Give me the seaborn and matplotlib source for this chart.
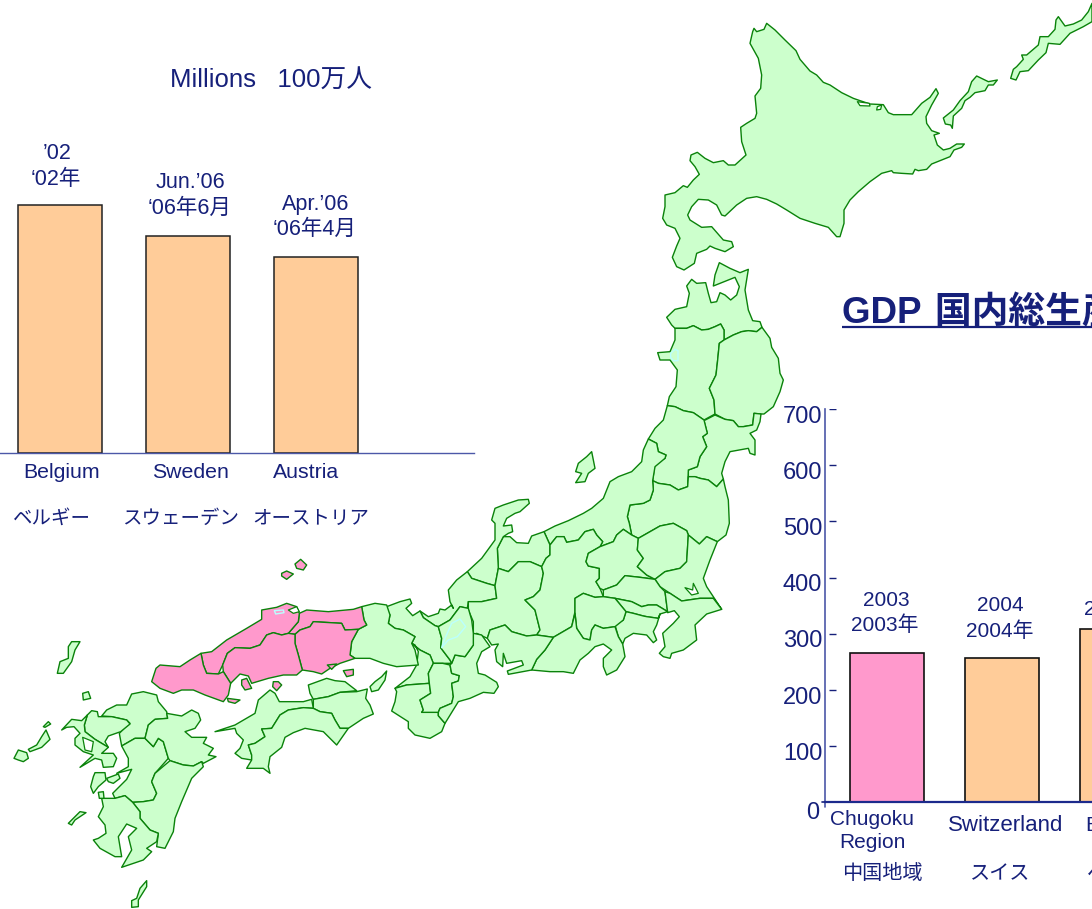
import matplotlib
matplotlib.use("Agg")
import matplotlib.pyplot as plt
from matplotlib.patches import Polygon
from matplotlib.transforms import ScaledTranslation
import seaborn as sns

# ---------- chart data ----------
POP_COUNTRIES = ["Belgium", "Sweden", "Austria"]
POP_COUNTRIES_JP = ["ベルギー", "スウェーデン", "オーストリア"]
POP_MILLIONS = [10.3, 9.02, 8.15]
POP_DATES_EN = ["’02", "Jun.’06", "Apr.’06"]
POP_DATES_JP = ["‘02年", "‘06年6月", "‘06年4月"]

GDP_REGIONS = ["Chugoku\nRegion", "Switzerland", "Belgium"]
GDP_REGIONS_JP = ["中国地域", "スイス", "ベルギー"]
GDP_VALUES = [265, 257, 308]
GDP_YEARS = ["2003", "2004", "2004"]
GDP_YEARS_JP = ["2003年", "2004年", ""]
GDP_TICKS = [0, 100, 200, 300, 400, 500, 600, 700]

NAVY = "#16207a"
AXIS = "#4c58a8"
PEACH = "#FFCC99"
PINK = "#FF99CC"
LAND = "#CCFFCC"
BORDER = "#0a820a"
LAKE = "#BBFFFF"


def at(ox, oy, pts):
    return [(ox + x / 3, oy + y / 3) for x, y in pts]


# ---------- map outlines ----------
HOKKAIDO = at(660, 10, [(320,40),(345,60),(375,90),(408,122),(420,148),(450,183),(470,195),(490,217),(510,225),(545,248),(580,265),(600,272),(630,282),(670,284),(685,308),(700,314),(755,314),(785,280),(810,262),(828,236),(835,250),(815,285),(798,320),(800,340),(815,362),(838,370),(822,375),(832,405),(850,420),(870,415),(890,402),(913,402),(905,412),(882,420),(870,440),(840,452),(815,462),(800,478),(775,482),(765,478),(758,492),(725,490),(700,488),(695,482),(665,490),(630,515),(595,545),(570,570),(552,600),(552,640),(540,680),(530,680),(505,652),(465,640),(420,625),(380,600),(350,582),(320,568),(290,560),(260,565),(230,585),(195,618),(185,615),(170,585),(145,570),(115,568),(95,590),(83,615),(90,630),(125,652),(155,650),(190,690),(215,695),(220,710),(195,725),(165,715),(150,708),(140,718),(110,730),(103,760),(72,780),(50,770),(37,742),(50,708),(60,685),(45,655),(20,645),(8,625),(15,590),(15,555),(45,548),(70,527),(82,532),(100,510),(118,493),(105,470),(90,452),(93,435),(112,427),(135,445),(160,458),(190,452),(205,465),(225,465),(258,435),(245,395),(242,352),(260,340),(285,325),(290,310),(285,258),(302,235),(305,195),(295,145),(270,100),(278,65),(282,55),(290,65),(312,58)])
KUNASHIRI = at(660, 10, [(950,198),(985,215),(1012,210),(1000,225),(985,225),(975,242),(945,248),(930,262),(915,272),(905,295),(880,318),(877,355),(872,345),(856,342),(850,324),(880,300),(900,272),(925,245),(935,215)])
ETOROFU = at(660, 10, [(1296,-20),(1285,5),(1265,30),(1240,42),(1215,48),(1195,20),(1188,30),(1185,58),(1165,80),(1140,80),(1135,105),(1100,135),(1085,135),(1090,148),(1070,170),(1060,178),(1052,205),(1068,210),(1080,185),(1105,182),(1135,150),(1158,128),(1165,100),(1200,103),(1230,70),(1270,50),(1296,35)])
SAROMA = at(660, 10, [(592,275),(628,280),(630,288),(600,287)])
NOTORO = at(660, 10, [(652,290),(665,285),(662,298),(650,300)])

AOMORI = at(560, 260, [(478,8),(510,25),(540,38),(565,28),(555,90),(565,150),(578,182),(600,185),(606,202),(590,215),(565,212),(545,215),(520,225),(492,240),(492,210),(482,192),(465,200),(445,208),(425,210),(400,197),(380,205),(345,205),(335,195),(320,172),(345,148),(380,140),(388,100),(380,78),(395,58),(410,70),(437,68),(445,100),(453,128),(470,125),(480,98),(495,105),(512,120),(530,105),(538,80),(525,52),(500,62),(460,78),(465,45)])
AKITA = at(560, 260, [(345,205),(380,205),(400,197),(425,210),(445,208),(465,200),(482,192),(492,210),(492,240),(478,250),(473,300),(468,345),(448,385),(462,420),(465,462),(432,480),(400,458),(370,452),(345,440),(322,437),(328,410),(348,380),(352,330),(330,300),(300,300),(293,278),(330,275),(345,240)])
IWATE = at(560, 260, [(492,240),(520,225),(545,215),(565,212),(590,215),(606,202),(630,235),(635,262),(655,295),(660,340),(670,360),(660,395),(640,440),(612,462),(603,462),(582,460),(578,495),(550,500),(535,500),(520,482),(495,478),(465,462),(462,420),(448,385),(468,345),(473,300),(478,250)])
MIYAGI = at(560, 260, [(465,465),(495,478),(520,482),(535,500),(550,500),(578,495),(582,460),(603,462),(600,485),(590,510),(570,520),(585,540),(585,585),(570,580),(565,565),(510,575),(495,605),(485,640),(490,657),(470,680),(445,660),(420,655),(405,650),(385,650),(385,630),(412,620),(420,590),(440,560),(428,530),(442,520),(432,482)])
YAMAGATA = at(560, 260, [(322,437),(345,440),(370,452),(400,458),(432,480),(442,520),(428,530),(440,560),(420,590),(412,620),(385,630),(383,680),(355,690),(330,675),(295,670),(278,662),(285,610),(315,595),(318,585),(295,575),(290,550),(265,537),(285,505),(310,480)])
SADO = at(560, 260, [(95,575),(100,600),(105,625),(85,640),(75,665),(47,668),(65,640),(47,635),(55,610),(80,590)])
AKITA_LAKE = at(560, 260, [(332,280),(345,268),(354,272),(354,302),(340,302),(332,292)])

FUKUSHIMA = at(440, 490, [(638,-28),(655,-20),(690,-15),(715,0),(743,-10),(745,-40),(765,-40),(780,-35),(805,-30),(830,-10),(850,-33),(855,-10),(865,30),(868,100),(858,135),(832,155),(800,140),(778,162),(745,135),(740,122),(700,100),(660,108),(595,145),(575,135),(568,100),(562,80),(570,45),(610,40),(630,30),(640,0)])
NIIGATA = at(440, 490, [(625,-153),(610,-120),(605,-85),(575,-55),(535,-40),(510,-25),(490,25),(455,55),(430,70),(385,92),(345,108),(312,125),(330,165),(350,140),(372,140),(380,157),(415,150),(435,125),(460,118),(470,135),(488,155),(480,170),(520,155),(530,135),(550,118),(575,135),(568,100),(562,80),(570,45),(610,40),(630,30),(640,0),(638,-28),(645,-70),(675,-95),(678,-105),(655,-115),(650,-140)])
TOYAMA = at(440, 490, [(312,125),(330,165),(330,195),(318,205),(305,230),(270,215),(235,215),(205,245),(175,235),(172,175),(190,140),(210,140),(230,158),(265,160),(275,138)])
ISHIKAWA = at(440, 490, [(265,28),(268,40),(240,65),(225,70),(200,85),(190,108),(215,105),(218,125),(205,130),(190,140),(172,175),(175,235),(165,287),(140,280),(95,265),(82,245),(125,205),(165,150),(165,100),(155,90),(165,55),(190,45),(235,30)])
FUKUI = at(440, 490, [(82,245),(95,265),(140,280),(165,287),(170,325),(125,335),(85,335),(82,355),(60,350),(30,390),(-5,410),(-15,407),(-50,383),(-60,363),(-35,380),(-5,370),(0,357),(15,360),(35,345),(40,355),(30,335),(25,300),(50,270)])
GIFU = at(440, 490, [(175,235),(205,245),(235,215),(270,215),(305,230),(310,250),(300,300),(280,320),(255,330),(285,360),(300,420),(290,435),(260,438),(215,425),(195,405),(150,420),(142,445),(110,430),(100,435),(100,395),(85,360),(85,335),(125,335),(170,325),(165,287)])
NAGANO = at(440, 490, [(330,165),(350,140),(372,140),(380,157),(415,150),(435,125),(460,118),(470,135),(488,155),(480,170),(445,190),(438,215),(445,228),(478,235),(478,265),(468,275),(480,295),(490,320),(465,322),(430,310),(405,325),(405,365),(395,410),(340,442),(290,435),(300,420),(285,360),(255,330),(280,320),(300,300),(310,250),(305,230),(318,205),(330,195)])
GUNMA = at(440, 490, [(480,170),(520,155),(530,135),(550,118),(575,135),(595,145),(592,180),(610,205),(592,230),(620,255),(645,268),(600,262),(555,257),(530,285),(490,300),(480,295),(468,275),(478,265),(478,235),(445,228),(438,215),(445,190)])
TOCHIGI = at(440, 490, [(595,145),(660,108),(700,100),(740,122),(745,135),(740,215),(720,235),(675,245),(645,268),(620,255),(592,230),(610,205),(592,180)])
IBARAKI = at(440, 490, [(745,135),(778,162),(800,140),(832,155),(810,210),(790,265),(800,290),(845,358),(820,325),(780,325),(725,333),(690,310),(660,290),(645,268),(675,245),(720,235),(740,215)])
KASUMIGAURA = at(440, 490, [(735,293),(758,300),(760,280),(775,310),(755,315)])
SAITAMA = at(440, 490, [(490,300),(530,285),(555,257),(600,262),(645,268),(660,290),(675,305),(683,365),(650,345),(625,345),(605,350),(575,335),(525,325),(490,320)])
CHIBA = at(440, 490, [(690,310),(725,333),(780,325),(820,325),(845,358),(800,372),(765,405),(770,450),(730,480),(695,490),(690,505),(670,500),(658,490),(675,470),(668,430),(700,400),(718,380),(703,362),(683,368),(675,305)])
TOKYO = at(440, 490, [(525,325),(575,335),(605,350),(625,345),(650,345),(683,365),(660,372),(655,385),(620,380),(610,378),(580,370),(558,365)])
KANAGAWA = at(440, 490, [(558,365),(580,370),(610,378),(620,380),(655,385),(660,372),(650,405),(640,425),(650,450),(640,458),(620,435),(580,430),(555,445),(548,462),(535,440),(525,405),(550,390)])
YAMANASHI = at(440, 490, [(405,325),(430,310),(465,322),(490,320),(525,325),(558,365),(550,390),(525,410),(490,415),(465,405),(455,420),(450,450),(430,445),(410,415),(405,370)])
SHIZUOKA = at(440, 490, [(340,442),(395,410),(405,370),(410,415),(430,445),(450,450),(455,420),(465,405),(490,415),(525,410),(535,440),(548,462),(555,500),(530,540),(500,555),(490,530),(490,505),(515,480),(490,462),(465,470),(445,490),(420,510),(400,550),(370,545),(330,545),(275,540),(290,508),(315,480)])
AICHI = at(440, 490, [(142,445),(150,420),(195,405),(215,425),(260,438),(290,435),(340,442),(315,480),(290,508),(275,540),(205,553),(202,543),(250,525),(245,512),(200,520),(190,490),(188,530),(170,515),(165,480),(175,462),(155,465)])

KYOTO = at(370, 595, [(50,35),(90,20),(120,12),(125,25),(108,40),(128,62),(150,48),(160,68),(195,92),(205,95),(215,130),(212,158),(240,195),(245,205),(218,205),(190,205),(180,180),(150,165),(125,145),(135,125),(100,105),(75,100),(55,85),(60,60),(50,45)])
OSAKA = at(370, 595, [(125,145),(150,165),(180,180),(190,205),(175,235),(178,265),(110,270),(75,280),(120,245),(140,210),(145,170),(135,150)])
WAKAYAMA = at(370, 595, [(75,280),(110,270),(178,265),(182,295),(150,315),(160,345),(155,352),(205,352),(205,362),(225,385),(215,410),(180,430),(135,420),(115,400),(115,380),(65,348),(75,320),(80,290)])
NARA = at(370, 595, [(190,205),(218,205),(240,210),(245,235),(268,242),(265,258),(245,265),(250,305),(245,325),(210,340),(205,352),(155,352),(160,345),(150,315),(182,295),(178,265),(175,235)])
MIE = at(370, 595, [(245,205),(255,180),(285,185),(310,150),(310,115),(335,120),(360,155),(335,170),(320,205),(325,235),(345,240),(380,262),(385,275),(372,295),(340,292),(300,310),(265,320),(225,385),(205,362),(205,352),(210,340),(245,325),(250,305),(245,265),(265,258),(268,242),(245,235),(240,210)])
SHIGA = at(370, 595, [(205,95),(240,75),(270,35),(295,40),(305,75),(310,115),(310,150),(285,185),(255,180),(245,205),(240,195),(212,158),(215,130)])
BIWA = at(370, 595, [(215,158),(225,130),(245,85),(270,72),(287,95),(262,125),(235,135)])
AWAJI = at(370, 595, [(50,228),(35,245),(15,260),(0,275),(5,290),(25,285),(45,255)])
HYOGO = at(140, 550, [(665,170),(705,160),(740,165),(745,180),(750,195),(745,220),(765,235),(790,240),(825,260),(815,280),(825,300),(835,345),(770,350),(730,340),(690,325),(645,325),(630,315),(635,275),(655,238),(680,225),(672,210)])

TOTTORI = at(140, 550, [(665,170),(672,210),(680,225),(655,238),(615,240),(605,220),(520,215),(510,230),(480,240),(465,253),(445,250),(475,215),(478,190),(500,180),(565,185),(640,178)])
SHIMANE = at(140, 550, [(440,160),(470,170),(478,190),(475,215),(445,250),(425,255),(400,248),(380,255),(360,285),(330,295),(285,293),(262,310),(248,345),(235,372),(200,370),(190,345),(183,310),(215,305),(260,270),(320,235),(365,208),(365,180),(410,172)])
OKAYAMA = at(140, 550, [(465,253),(480,240),(510,230),(520,215),(605,220),(615,240),(655,238),(635,275),(630,315),(645,325),(600,340),(570,355),(545,372),(520,365),(487,360),(475,315),(465,280)])
HIROSHIMA = at(140, 550, [(262,310),(285,293),(330,295),(360,285),(380,255),(400,248),(425,255),(445,250),(465,253),(465,280),(475,315),(487,360),(470,375),(430,375),(385,385),(335,400),(325,378),(300,372),(272,400),(250,365),(248,345)])
YAMAGUCHI = at(140, 550, [(183,310),(190,345),(200,370),(235,372),(250,365),(272,400),(265,435),(250,455),(195,435),(160,420),(125,420),(100,430),(60,415),(35,395),(48,355),(60,345),(120,350),(150,330)])
OKI_A = at(140, 550, [(482,28),(500,45),(490,60),(470,55),(465,42)])
OKI_B = at(140, 550, [(425,70),(440,63),(460,72),(440,88),(425,78)])
SUO = at(140, 550, [(262,445),(300,450),(285,460),(265,455)])
KURAHASHI = at(140, 550, [(305,390),(320,385),(335,415),(315,420),(305,405)])
OSAKI = at(140, 550, [(400,395),(415,395),(425,405),(410,422),(398,410)])
SHODO = at(140, 550, [(610,362),(640,358),(640,375),(620,380)])
NAOSHIMA = at(140, 550, [(562,345),(590,342),(575,358)])
SHINJI = at(140, 550, [(445,180),(470,170),(478,185),(460,190)])
SHINJI_SMALL = at(140, 550, [(403,182),(430,180),(432,188),(407,192)])

KAGAWA = at(200, 660, [(325,75),(380,55),(405,62),(435,65),(470,92),(420,97),(385,110),(340,118),(330,100)])
TOKUSHIMA = at(200, 660, [(340,118),(385,110),(420,97),(470,95),(502,87),(497,115),(510,135),(520,162),(490,175),(445,205),(420,205),(405,180),(395,160),(360,155),(340,145)])
EHIME = at(200, 660, [(45,215),(105,195),(165,160),(175,120),(210,90),(225,100),(238,125),(270,125),(310,125),(335,118),(340,145),(310,143),(265,150),(240,165),(215,205),(185,207),(195,230),(165,250),(145,255),(155,285),(155,300),(125,295),(105,280),(120,265),(130,240),(110,220),(105,205)])
KOCHI = at(200, 660, [(340,145),(360,155),(395,160),(405,180),(420,205),(445,205),(410,255),(370,215),(315,205),(280,218),(255,232),(245,262),(210,290),(205,320),(210,340),(190,325),(140,325),(155,300),(155,285),(145,255),(165,250),(195,230),(185,207),(215,205),(240,165),(265,150),(310,143)])

FUKUOKA = at(0, 630, [(395,192),(430,185),(470,195),(475,215),(500,245),(503,265),(465,268),(445,285),(435,325),(405,325),(365,348),(358,310),(375,292),(390,280),(380,270),(335,260),(305,258),(320,240),(350,225),(380,225)])
SAGA = at(0, 630, [(262,255),(275,242),(292,245),(295,260),(335,260),(380,270),(390,282),(362,305),(325,318),(315,335),(325,352),(285,328),(255,305),(253,285)])
NAGASAKI = at(0, 630, [(185,300),(215,268),(245,272),(262,255),(253,285),(255,305),(285,328),(325,352),(305,370),(340,370),(350,385),(340,410),(310,412),(305,390),(285,385),(240,412),(280,375),(250,365),(225,345),(225,325),(240,310),(222,290),(200,292)])
OMURA = at(0, 630, [(248,322),(280,335),(275,365),(255,360)])
KUMAMOTO = at(0, 630, [(365,348),(405,325),(435,325),(460,350),(475,325),(490,335),(505,385),(465,430),(455,455),(470,490),(460,510),(430,515),(398,517),(375,497),(345,505),(338,490),(380,448),(395,418),(350,430),(385,410),(385,385)])
AMAKUSA_A = at(0, 630, [(285,428),(315,428),(318,450),(295,470),(280,490),(272,470),(280,440)])
AMAKUSA_B = at(0, 630, [(320,445),(355,432),(360,445),(340,460),(325,455)])
OITA = at(0, 630, [(500,250),(545,258),(575,240),(595,250),(602,270),(585,295),(555,305),(575,322),(620,322),(610,340),(640,355),(625,375),(648,380),(610,400),(605,395),(580,408),(550,405),(510,392),(505,385),(490,335),(475,325),(460,350),(435,325),(445,285),(465,268),(503,265)])
MIYAZAKI = at(0, 630, [(510,392),(550,405),(580,408),(605,395),(610,410),(575,445),(545,515),(525,565),(520,605),(495,655),(470,650),(475,610),(450,600),(420,565),(420,545),(398,517),(430,515),(460,510),(470,490),(455,455),(465,430)])
KAGOSHIMA = at(0, 630, [(305,505),(345,505),(375,497),(398,517),(420,545),(420,565),(450,600),(475,610),(470,635),(440,655),(455,665),(430,690),(365,712),(395,660),(385,620),(410,595),(380,582),(355,620),(365,680),(345,680),(300,655),(280,630),(295,625),(318,610),(315,585),(295,560),(310,530)])
NAGASHIMA = at(0, 630, [(295,487),(310,485),(312,505),(298,505)])
KOSHIKI = at(0, 630, [(205,580),(240,545),(258,548),(225,570),(215,585)])
TANEGA = at(0, 630, [(395,812),(410,805),(420,775),(440,752),(440,770),(415,810),(415,830),(395,832)])
IKI = at(0, 630, [(248,190),(265,185),(272,205),(250,210)])
TSUSHIMA = at(0, 630, [(172,130),(180,95),(205,85),(205,50),(215,35),(240,35),(225,60),(215,95),(190,130)])
GOTO_A = at(0, 630, [(42,385),(55,360),(80,368),(85,385),(70,395),(55,390)])
GOTO_B = at(0, 630, [(85,358),(110,345),(125,320),(138,300),(150,328),(125,352),(90,365)])
GOTO_C = at(0, 630, [(130,290),(145,275),(152,282),(135,292)])

GREEN_SHAPES = [HOKKAIDO, KUNASHIRI, ETOROFU, AOMORI, AKITA, IWATE, MIYAGI, YAMAGATA, SADO,
                FUKUSHIMA, NIIGATA, TOYAMA, ISHIKAWA, FUKUI, GIFU, NAGANO, GUNMA, TOCHIGI,
                IBARAKI, SAITAMA, CHIBA, TOKYO, KANAGAWA, YAMANASHI, SHIZUOKA, AICHI,
                KYOTO, OSAKA, WAKAYAMA, NARA, MIE, SHIGA, AWAJI, HYOGO,
                KAGAWA, TOKUSHIMA, EHIME, KOCHI,
                FUKUOKA, SAGA, NAGASAKI, KUMAMOTO, AMAKUSA_A, AMAKUSA_B, OITA, MIYAZAKI,
                KAGOSHIMA, NAGASHIMA, KOSHIKI, TANEGA, IKI, TSUSHIMA, GOTO_A, GOTO_B, GOTO_C]
PINK_SHAPES = [TOTTORI, SHIMANE, OKAYAMA, HIROSHIMA, YAMAGUCHI, OKI_A, OKI_B, SUO,
               KURAHASHI, OSAKI, SHODO, NAOSHIMA]
WHITE_SHAPES = [SAROMA, NOTORO, KASUMIGAURA, SHINJI, OMURA]
LAKE_SHAPES = [AKITA_LAKE, BIWA, SHINJI_SMALL]

# ---------- layout, in pixels on the 1092x909 figure ----------
W, H = 1092, 909
POP_LABEL_OFFSETS = {"year": [(-3, 51), (2, 53), (-1, 52)], "year_jp": [(-4, 25), (1, 27), (-2, 27)],
                     "name": [(2, -20), (2, -20), (-10, -20)], "name_jp": [(-8, -66), (-8, -66), (-6, -66)]}
GDP_LABEL_OFFSETS = {"year": [(-1, 53), (-2, 52), (-10, 20)], "year_jp": [(-2, 28), (-2, 27), (0, 0)],
                     "name": [(-15, -29), (4, -23), (7, -23)], "name_jp": [(-5, -71), (-2, -71), (10, -71)]}

sns.set_theme(style="white", rc={"axes.facecolor": "none", "figure.facecolor": "white"})
FONT = ["Liberation Sans", "Noto Sans CJK JP", "DejaVu Sans"]
plt.rcParams["font.family"] = FONT
plt.rcParams["text.color"] = NAVY

fig = plt.figure(figsize=(W / 100, H / 100), dpi=100)


def axes_px(x0, y_top, x1, y_bottom):
    return fig.add_axes([x0 / W, 1 - y_bottom / H, (x1 - x0) / W, (y_bottom - y_top) / H])


# ---------- map ----------
ax_map = fig.add_axes([0, 0, 1, 1])
ax_map.set_xlim(0, W)
ax_map.set_ylim(H, 0)
ax_map.axis("off")
for shape in GREEN_SHAPES:
    ax_map.add_patch(Polygon(shape, closed=True, fc=LAND, ec=BORDER, lw=1.0, joinstyle="round"))
for shape in PINK_SHAPES:
    ax_map.add_patch(Polygon(shape, closed=True, fc=PINK, ec=BORDER, lw=1.0, joinstyle="round"))
for shape in WHITE_SHAPES:
    ax_map.add_patch(Polygon(shape, closed=True, fc="white", ec=BORDER, lw=0.9, joinstyle="round"))
for shape in LAKE_SHAPES:
    ax_map.add_patch(Polygon(shape, closed=True, fc="none", ec=LAKE, lw=1.0, joinstyle="round"))


def label_px(ax, i, y, offset, text, size):
    ax.annotate(text, xy=(i, y), xytext=offset, textcoords="offset pixels", ha="center",
                va="center", fontsize=size, color=NAVY, annotation_clip=False, linespacing=1.25)


# ---------- population bars ----------
ax_pop = axes_px(0, 153, 474, 453)
sns.barplot(x=POP_COUNTRIES, y=POP_MILLIONS, hue=POP_COUNTRIES, palette=[PEACH] * 3, legend=False,
            width=0.655, saturation=1, edgecolor="#222222", linewidth=1.1, ax=ax_pop)
ax_pop.set_xlim(-60 / 128.2, 414 / 128.2)
ax_pop.set_ylim(0, 300 / 24.08)
sns.despine(ax=ax_pop, left=True)
ax_pop.spines["bottom"].set_color(AXIS)
ax_pop.spines["bottom"].set_linewidth(1.0)
ax_pop.set_xticks([])
ax_pop.set_yticks([])
ax_pop.set_xlabel("")
ax_pop.set_ylabel("")
for i, v in enumerate(POP_MILLIONS):
    label_px(ax_pop, i, v, POP_LABEL_OFFSETS["year"][i], POP_DATES_EN[i], 15.5)
    label_px(ax_pop, i, v, POP_LABEL_OFFSETS["year_jp"][i], POP_DATES_JP[i], 15.5)
    label_px(ax_pop, i, 0, POP_LABEL_OFFSETS["name"][i], POP_COUNTRIES[i], 15.3)
    label_px(ax_pop, i, 0, POP_LABEL_OFFSETS["name_jp"][i], POP_COUNTRIES_JP[i], 14)
fig.text(170 / W, 1 - 81 / H, "Millions   100万人", fontsize=18.5, color=NAVY, va="center", ha="left")

# ---------- GDP bars ----------
ax_gdp = axes_px(825, 409, W, 802.3)
sns.barplot(x=GDP_REGIONS, y=GDP_VALUES, hue=GDP_REGIONS, palette=[PINK, PEACH, PEACH], legend=False,
            width=0.652, saturation=1, edgecolor="#111111", linewidth=1.2, ax=ax_gdp)
ax_gdp.set_xlim(-62 / 115, 205 / 115)
ax_gdp.set_ylim(0, 700)
sns.despine(ax=ax_gdp)
ax_gdp.spines["bottom"].set_color("#1c2a8c")
ax_gdp.spines["bottom"].set_linewidth(1.6)
ax_gdp.spines["left"].set_color(AXIS)
ax_gdp.spines["left"].set_linewidth(1.2)
ax_gdp.set_xticks([])
ax_gdp.set_xlabel("")
ax_gdp.set_ylabel("")
ax_gdp.set_yticks(GDP_TICKS)
ax_gdp.set_yticklabels([str(t) for t in GDP_TICKS], fontsize=17, color=NAVY)
ax_gdp.tick_params(axis="y", left=False, length=0, pad=2.0)
for tick, lab in zip(GDP_TICKS, ax_gdp.get_yticklabels()):
    dx, dy = (-3, -8.5) if tick == 0 else (0, -5.2)
    lab.set_transform(lab.get_transform() + ScaledTranslation(dx / 100, dy / 100, fig.dpi_scale_trans))
# the short tick marks stand clear of the axis line
tick_tf = ax_gdp.get_yaxis_transform()
ax_gdp.hlines([t for t in GDP_TICKS if t > 0], 4 / (W - 825), 11 / (W - 825), transform=tick_tf,
              color=NAVY, lw=1.0)
ax_gdp.plot([-3 / (W - 825), 0], [0, 0], transform=tick_tf, color=NAVY, lw=1.2, clip_on=False)
ax_gdp.plot([0, 0], [-8, 0], transform=tick_tf, color=AXIS, lw=1.2, clip_on=False)
GDP_NAME_SIZES = [15, 16, 15.3]
for i, v in enumerate(GDP_VALUES):
    label_px(ax_gdp, i, v, GDP_LABEL_OFFSETS["year"][i], GDP_YEARS[i], 15)
    if GDP_YEARS_JP[i]:
        label_px(ax_gdp, i, v, GDP_LABEL_OFFSETS["year_jp"][i], GDP_YEARS_JP[i], 15)
    label_px(ax_gdp, i, 0, GDP_LABEL_OFFSETS["name"][i], GDP_REGIONS[i], GDP_NAME_SIZES[i])
    label_px(ax_gdp, i, 0, GDP_LABEL_OFFSETS["name_jp"][i], GDP_REGIONS_JP[i], 14.5)

# ---------- GDP heading ----------
fig.text(842 / W, 1 - 314 / H, "GDP\u200a 国内総生産", fontsize=26.5, fontweight="bold", color=NAVY,
         va="center", ha="left")
ax_map.plot([842, W], [326.7, 326.7], color=NAVY, lw=1.6, solid_capstyle="butt")

fig.savefig("out.png", dpi=100)
